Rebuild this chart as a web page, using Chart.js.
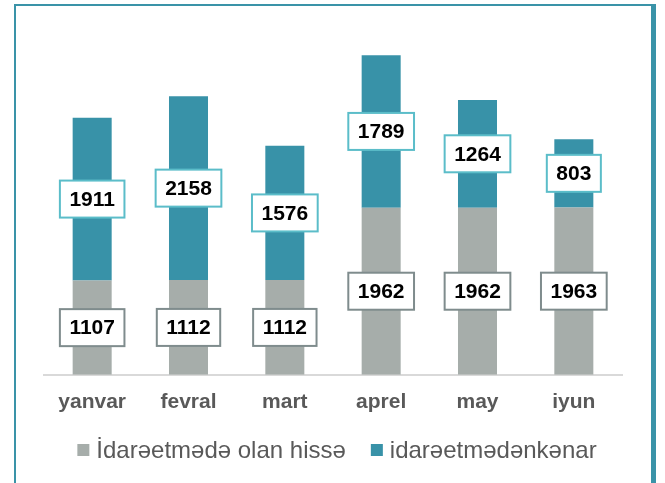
<!DOCTYPE html>
<html>
<head>
<meta charset="utf-8">
<script src="https://cdn.jsdelivr.net/npm/chart.js@4"></script>
<style>
  html, body { margin: 0; padding: 0; background: #fff; }
  #wrap { position: relative; width: 665px; height: 483px; overflow: hidden; }
  #frame {
    position: absolute; left: 14px; top: 4px; width: 635px; height: 500px;
    border-top: 2px solid #3a93a8; border-left: 2px solid #3a93a8; border-right: 5px solid #3a93a8;
    pointer-events: none;
  }
  canvas { position: absolute; left: 0; top: 0; }
</style>
</head>
<body>
<div id="wrap">
  <div id="frame"></div>
  <canvas id="chart" width="665" height="483"></canvas>
</div>
<script>
const months = ["yanvar", "fevral", "mart", "aprel", "may", "iyun"];
const managedShare = [1107, 1112, 1112, 1962, 1962, 1963];
const outsideShare = [1911, 2158, 1576, 1789, 1264, 803];
const seriesNames = ["İdarəetmədə olan hissə", "idarəetmədənkənar"];

const greyColor = "#a6adaa";
const tealColor = "#3892a8";
const labelBorders = ["#7f8c8d", "#5bbdc9"];

// boxed value labels in the middle of every segment
const boxLabels = {
  id: "boxLabels",
  afterDatasetsDraw(chart) {
    const ctx = chart.ctx;
    ctx.save();
    ctx.font = "bold 21px 'Liberation Sans', Arial, sans-serif";
    ctx.textAlign = "center";
    ctx.textBaseline = "middle";
    chart.data.datasets.forEach((ds, i) => {
      const meta = chart.getDatasetMeta(i);
      meta.data.forEach((bar, j) => {
        const text = String(ds.data[j]);
        const cy = (bar.y + bar.base) / 2;
        const w = ctx.measureText(text).width + 19;
        const h = 37;
        ctx.fillStyle = "#fff";
        ctx.fillRect(bar.x - w / 2, cy - h / 2, w, h);
        ctx.lineWidth = 2;
        ctx.strokeStyle = labelBorders[i];
        ctx.strokeRect(bar.x - w / 2, cy - h / 2, w, h);
        ctx.fillStyle = "#000";
        ctx.fillText(text, bar.x, cy + 1);
      });
    });
    ctx.restore();
  }
};

// legend drawn by hand so the gaps match
const bottomLegend = {
  id: "bottomLegend",
  afterDraw(chart) {
    const ctx = chart.ctx;
    ctx.save();
    ctx.font = "24px 'Liberation Sans', Arial, sans-serif";
    ctx.textBaseline = "middle";
    const box = 12, gap = 7, between = 25;
    const items = chart.data.datasets.map(ds => ({
      text: ds.label,
      color: ds.backgroundColor,
      w: ctx.measureText(ds.label).width
    }));
    const total = items.reduce((s, it) => s + box + gap + it.w, 0) + between * (items.length - 1);
    let x = 337 - total / 2;
    const y = 450;
    items.forEach(it => {
      ctx.fillStyle = it.color;
      ctx.fillRect(x, y - box / 2, box, box);
      ctx.fillStyle = "#595959";
      ctx.fillText(it.text, x + box + gap, y + 1);
      x += box + gap + it.w + between;
    });
    ctx.restore();
  }
};

new Chart(document.getElementById("chart"), {
  type: "bar",
  data: {
    labels: months,
    datasets: [
      { label: seriesNames[0], data: managedShare, backgroundColor: greyColor },
      { label: seriesNames[1], data: outsideShare, backgroundColor: tealColor }
    ]
  },
  options: {
    responsive: false,
    animation: false,
    layout: { padding: { top: 34, left: 44, right: 43, bottom: 61 } },
    datasets: { bar: { categoryPercentage: 1, barPercentage: 0.405 } },
    plugins: {
      legend: { display: false },
      tooltip: { enabled: false }
    },
    scales: {
      x: {
        stacked: true,
        grid: { display: false },
        border: { display: true, color: "#d9d9d9", width: 2 },
        ticks: {
          padding: 7,
          color: "#595959",
          font: { family: "'Liberation Sans', Arial, sans-serif", size: 21, weight: "bold" }
        }
      },
      y: {
        stacked: true,
        display: false,
        min: 0,
        max: 4000
      }
    }
  },
  plugins: [boxLabels, bottomLegend]
});
</script>
</body>
</html>
